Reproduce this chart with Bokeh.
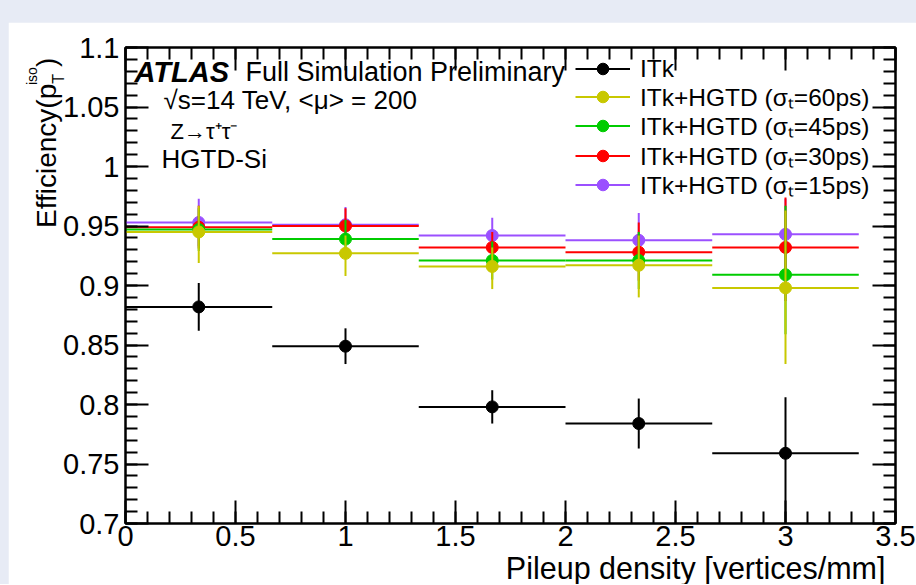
import numpy as np
from bokeh.plotting import figure
from bokeh.models import (FixedTicker, LinearAxis, Range1d, Label, Legend, LegendItem,
                          ColumnDataSource, CustomJSTickFormatter, Title, Div)
from bokeh.layouts import column
from bokeh.embed import file_html
from bokeh.resources import INLINE

# ---------------- data ----------------
bin_lo = [0.0, 0.667, 1.333, 2.0, 2.667]
bin_hi = [0.667, 1.333, 2.0, 2.667, 3.333]
bin_center = [0.333, 1.0, 1.667, 2.333, 3.0]

eff_itk = [0.882, 0.849, 0.798, 0.784, 0.759]
elo_itk = [0.020, 0.015, 0.014, 0.021, 0.060]
ehi_itk = [0.020, 0.015, 0.014, 0.021, 0.047]

eff_60 = [0.945, 0.927, 0.916, 0.917, 0.898]
elo_60 = [0.026, 0.019, 0.019, 0.027, 0.064]
ehi_60 = [0.022, 0.015, 0.016, 0.025, 0.065]

eff_45 = [0.947, 0.939, 0.921, 0.921, 0.909]
elo_45 = [0.018, 0.016, 0.016, 0.024, 0.050]
ehi_45 = [0.018, 0.016, 0.016, 0.024, 0.058]

eff_30 = [0.949, 0.950, 0.932, 0.928, 0.932]
elo_30 = [0.018, 0.015, 0.014, 0.024, 0.045]
ehi_30 = [0.018, 0.015, 0.013, 0.025, 0.042]

eff_15 = [0.953, 0.951, 0.942, 0.938, 0.943]
elo_15 = [0.020, 0.015, 0.015, 0.023, 0.035]
ehi_15 = [0.020, 0.015, 0.015, 0.023, 0.030]

series_labels = ["ITk",
                 "ITk+HGTD (σₜ=60ps)",
                 "ITk+HGTD (σₜ=45ps)",
                 "ITk+HGTD (σₜ=30ps)",
                 "ITk+HGTD (σₜ=15ps)"]
series_colors = ["#000000", "#c8c800", "#00cc00", "#ff0000", "#9b50ff"]
series_eff = [eff_itk, eff_60, eff_45, eff_30, eff_15]
series_elo = [elo_itk, elo_60, elo_45, elo_30, elo_15]
series_ehi = [ehi_itk, ehi_60, ehi_45, ehi_30, ehi_15]
draw_order = [0, 4, 3, 2, 1]

x_major = [0, 0.5, 1, 1.5, 2, 2.5, 3, 3.5]
x_major_labels = ["0", "0.5", "1", "1.5", "2", "2.5", "3", "3.5"]
y_major = [0.7, 0.75, 0.8, 0.85, 0.9, 0.95, 1.0, 1.05, 1.1]
y_major_labels = ["0.7", "0.75", "0.8", "0.85", "0.9", "0.95", "1", "1.05", "1.1"]

x_title = "Pileup density [vertices/mm]"

XMIN, XMAX, YMIN, YMAX = 0.0, 3.5, 0.7, 1.1

FONT = "Liberation Sans"

# ---------------- figure ----------------
p = figure(frame_width=770, frame_height=476, output_backend="svg", toolbar_location=None,
           x_range=Range1d(XMIN, XMAX), y_range=Range1d(YMIN, YMAX),
           min_border_left=117, min_border_right=21, min_border_top=25, min_border_bottom=0,
           background_fill_color="white", border_fill_color="white")
p.xgrid.visible = False
p.ygrid.visible = False
p.outline_line_color = "black"
p.outline_line_width = 2

x_minor = [round(v, 2) for v in np.arange(0, 3.51, 0.1)]
y_minor = [round(v, 3) for v in np.arange(0.7, 1.1001, 0.01)]
xt = FixedTicker(ticks=x_major, minor_ticks=x_minor)
yt = FixedTicker(ticks=y_major, minor_ticks=y_minor)


def style_axis(ax):
    ax.axis_line_width = 2
    ax.axis_line_color = "black"
    ax.major_tick_in = 23
    ax.major_tick_out = 0
    ax.minor_tick_in = 12
    ax.minor_tick_out = 0
    ax.major_tick_line_width = 2
    ax.minor_tick_line_width = 2
    ax.major_tick_line_color = "black"
    ax.minor_tick_line_color = "black"
    ax.major_label_text_font = FONT
    ax.major_label_text_font_size = "29px"
    ax.major_label_text_color = "black"


p.xaxis.ticker = xt
p.yaxis.ticker = yt
p.xaxis.major_label_overrides = dict(zip(x_major, x_major_labels))
p.yaxis.major_label_overrides = dict(zip(y_major, y_major_labels))
for ax in p.xaxis + p.yaxis:
    style_axis(ax)
p.xaxis.major_label_standoff = 2
p.yaxis.major_label_standoff = 6

blank = CustomJSTickFormatter(code="return ''")
top_ax = LinearAxis(ticker=FixedTicker(ticks=x_major, minor_ticks=x_minor), formatter=blank)
right_ax = LinearAxis(ticker=FixedTicker(ticks=y_major, minor_ticks=y_minor), formatter=blank)
for ax in (top_ax, right_ax):
    style_axis(ax)
    ax.major_label_standoff = 0
p.add_layout(top_ax, "above")
p.add_layout(right_ax, "right")

# x axis title, right aligned under the frame
p.add_layout(Title(text=x_title, align="right", offset=10, standoff=0,
                   text_font=FONT, text_font_size="30.5px", text_font_style="normal",
                   text_color="black"), "below")

# ---------------- data marks ----------------
renderers = {}
for i in draw_order:
    eff = series_eff[i]
    src = ColumnDataSource(dict(
        lo=bin_lo, hi=bin_hi, xc=bin_center, y=eff,
        ylo=[e - d for e, d in zip(eff, series_elo[i])],
        yhi=[e + d for e, d in zip(eff, series_ehi[i])]))
    c = series_colors[i]
    hs = p.segment(x0="lo", x1="hi", y0="y", y1="y", source=src, line_color=c, line_width=2)
    p.segment(x0="xc", x1="xc", y0="ylo", y1="yhi", source=src, line_color=c, line_width=2)
    sc = p.scatter(x="xc", y="y", source=src, size=12, marker="circle",
                   fill_color=c, line_color=c)
    renderers[i] = (hs, sc)

# one legend box per row, so that the rows sit at the reference spacing
legend_row_bottom = [440, 410, 381, 351, 322]   # px above the frame bottom
for i in range(5):
    lg = Legend(items=[LegendItem(label=series_labels[i], renderers=list(renderers[i]))],
                location=(450, legend_row_bottom[i]), glyph_width=55, glyph_height=29,
                label_height=29, spacing=0, padding=0, margin=0, label_standoff=10,
                background_fill_alpha=0, border_line_alpha=0,
                label_text_font=FONT, label_text_font_size="24.5px",
                label_text_color="black", label_text_baseline="middle")
    p.add_layout(lg)

# ---------------- text annotations inside the frame ----------------
def dx(px):
    return XMIN + (px - 125) * (XMAX - XMIN) / 770.0


def dy(py):
    return YMIN + (523 - py) * (YMAX - YMIN) / 476.0


def add_text(txt, px, py, size, style="normal", align="left", baseline="middle"):
    p.add_layout(Label(x=dx(px), y=dy(py), text=txt, text_font=FONT,
                       text_font_size=size, text_font_style=style, text_color="black",
                       text_align=align, text_baseline=baseline))


add_text("ATLAS", 134, 71, "29px", style="bold italic")
add_text("Full Simulation Preliminary", 245, 71, "27px")
add_text("√s=14 TeV, <μ> = 200", 163, 99, "26px")
add_text("Z→τ⁺τ⁻", 170, 131, "22px")
add_text("HGTD-Si", 161, 158, "26px")

# ---------------- y axis title (HTML, rotated) ----------------
ylab_html = (
    "<div style=\"font-family:'Liberation Sans';font-size:28px;line-height:28px;"
    "white-space:nowrap;color:black\">Efficiency(p"
    "<span style=\"font-size:16px;position:relative;top:8px\">T</span>"
    "<span style=\"font-size:14px;position:relative;top:-19px;margin-left:-11px\">iso</span>"
    ")</div>")
ylab = Div(text=ylab_html, styles={"position": "absolute", "left": "0px", "top": "0px",
                                   "transform": "translate(28px, 223px) rotate(-90deg)",
                                   "transform-origin": "0 0"})

layout = column(p, ylab, styles={"padding-left": "8px", "padding-top": "22px",
                                 "background-color": "#e7ebf5", "position": "relative"})

open("out.html", "w").write(file_html(layout, INLINE))
